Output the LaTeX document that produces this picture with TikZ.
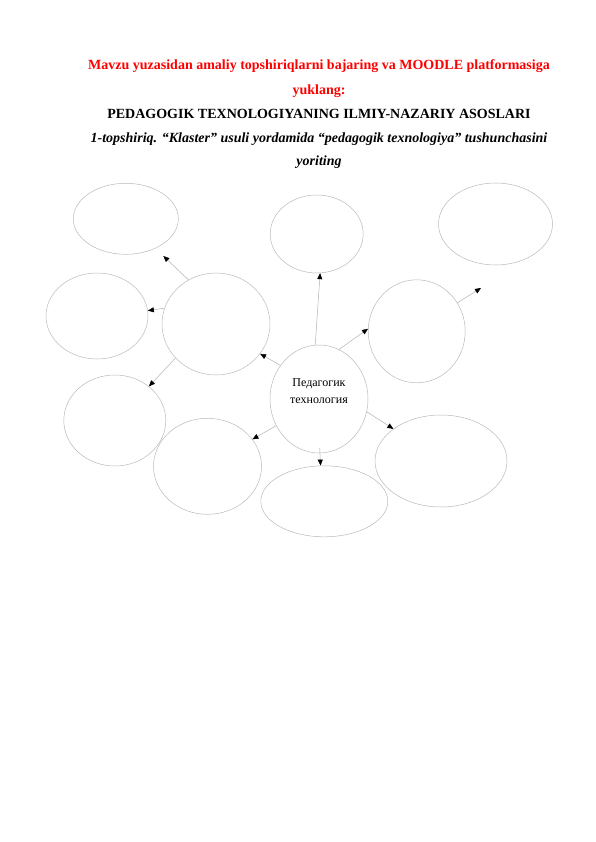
\documentclass[tikz,border=0pt]{standalone}
\usepackage{fontspec}
\setmainfont{Liberation Serif}
\usepackage{tikz}
\usetikzlibrary{shapes.geometric,arrows.meta}

\begin{document}
\begin{tikzpicture}[x=1pt, y=-1pt,
    bubble/.style={ellipse, draw=gray!55, line width=0.5pt, inner sep=0pt},
    headline/.style={anchor=base, inner sep=0pt, font=\fontsize{14}{17}\selectfont\bfseries},
    >={Triangle[length=6pt,width=5pt,color=black]},
    link/.style={->, every edge/.style={draw=gray!60, line width=0.5pt}}]
  \useasboundingbox (0,0) rectangle (596,842);

  \node [headline, text=red] (t1) at (319,70) {Mavzu yuzasidan amaliy topshiriqlarni bajaring va MOODLE platformasiga};
  \node [headline, text=red] (t2) at (319,94.5) {yuklang:};
  \node [headline] (t3) at (319,118.3) {PEDAGOGIK TEXNOLOGIYANING ILMIY-NAZARIY ASOSLARI};
  \node [headline, font=\fontsize{14}{17}\selectfont\bfseries\itshape] (t4) at (319,142.3) {1-topshiriq. “Klaster” usuli yordamida “pedagogik texnologiya” tushunchasini};
  \node [headline, font=\fontsize{14}{17}\selectfont\bfseries\itshape] (t5) at (319,166) {yoriting};

  \node [bubble, minimum width=98, minimum height=108] (c) at (319,399) {};
  \node [align=center, inner sep=0pt, font=\fontsize{12}{17}\selectfont] (ct) at (319,391) {Педагогик\\технология};
  \node [bubble, minimum width=108, minimum height=102] (c1) at (216,324) {};
  \node [bubble, minimum width=97, minimum height=103] (c2) at (416.7,331.3) {};
  \node [bubble, minimum width=105, minimum height=71] (e1) at (125.8,218.8) {};
  \node [bubble, minimum width=102, minimum height=86] (e2) at (97,316) {};
  \node [bubble, minimum width=93, minimum height=78] (e3) at (316.7,234) {};
  \node [bubble, minimum width=114, minimum height=82] (e4) at (495.5,224) {};
  \node [bubble, minimum width=102, minimum height=91] (e5) at (114.8,420.5) {};
  \node [bubble, minimum width=108, minimum height=96] (e6) at (207.5,466.3) {};
  \node [bubble, minimum width=127, minimum height=71] (e7) at (324.3,501.3) {};
  \node [bubble, minimum width=132, minimum height=92] (e8) at (441,461) {};
  \coordinate (f) at (481,288);

  \path [link]
  (c.139) edge (c1.-34)
  (c.94) edge (e3.-85)
  (c.68) edge (c2.177)
  (c.212) edge (e6.31)
  (c.-89) edge [shorten <=-5pt] (e7.96)
  (c.-15) edge (e8.146)
  (c1.122) edge [shorten >=11pt] (e1.-45)
  (c1.163) edge (e2.6)
  (c1.220) edge (e5.45)
  (c2.35) edge (f)
  ;
\end{tikzpicture}
\end{document}
